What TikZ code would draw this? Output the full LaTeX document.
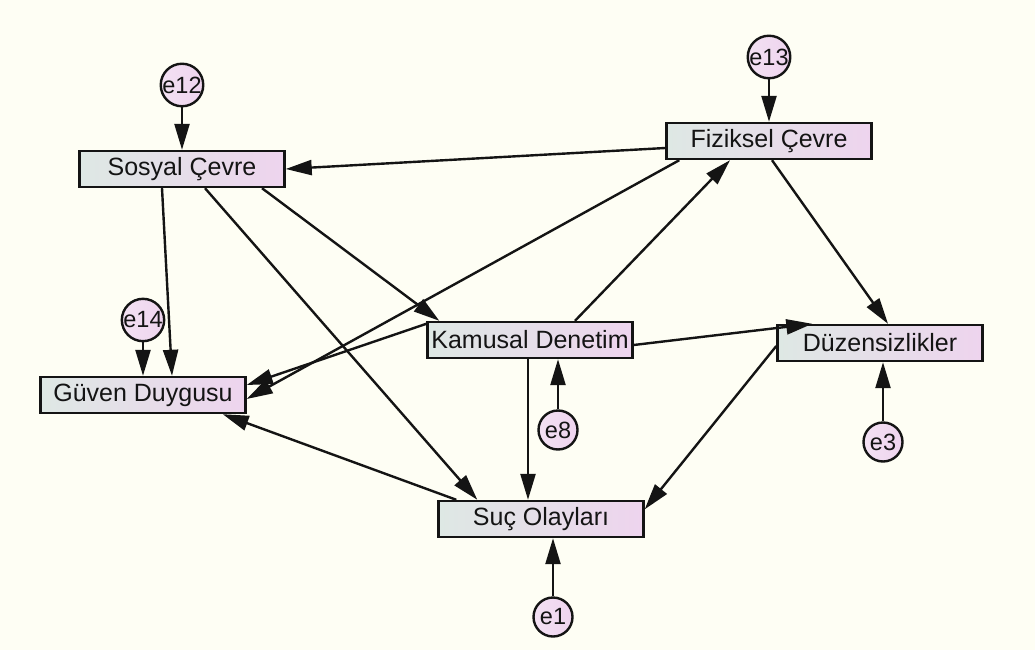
\documentclass[tikz,border=0pt]{standalone}
\usepackage{fontspec}
\setmainfont{Liberation Sans}
\usetikzlibrary{arrows.meta}
\definecolor{bgc}{RGB}{254,254,244}
\definecolor{lc}{RGB}{222,232,228}
\definecolor{rc}{RGB}{238,212,238}
\definecolor{ink}{RGB}{20,20,20}
\tikzset{
  varbox/.style={draw=ink, line width=2.4pt, left color=lc, right color=rc, shading angle=90,
    minimum width=205pt, minimum height=36pt, inner sep=0pt, text=ink,
    font=\fontsize{25}{29}\selectfont},
  errc/.style={circle, draw=ink, line width=2.4pt, left color=rc!70!white, right color=rc,
    minimum size=39pt, inner sep=0pt, text=ink, font=\fontsize{23.5}{27}\selectfont},
  arr/.style={draw=ink, line width=2.4pt, -{Triangle[length=26pt,width=15pt]}},
}
\begin{document}
\begin{tikzpicture}[x=1pt,y=-1pt]
\fill[bgc] (0,0) rectangle (1035,650);
\useasboundingbox (0,0) rectangle (1035,650);
% variables
\node[varbox] (sos) at (182,169) {Sosyal Çevre};
\node[varbox] (fiz) at (769,141) {Fiziksel Çevre};
\node[varbox] (guv) at (143,395) {Güven Duygusu};
\node[varbox] (kam) at (530,340) {Kamusal Denetim};
\node[varbox] (duz) at (880,343) {Düzensizlikler};
\node[varbox] (suc) at (541,519) {Suç Olayları};
% errors
\node[errc] (e12) at (182,85) {e12};
\node[errc] (e13) at (769,57) {e13};
\node[errc] (e14) at (143,320) {e14};
\node[errc] (e8) at (558,430) {e8};
\node[errc] (e3) at (883,442) {e3};
\node[errc] (e1) at (553,617) {e1};
% error arrows
\draw[arr] (e12) -- (sos.north);
\draw[arr] (e13) -- (fiz.north);
\draw[arr] (e14) -- (guv.north);
\draw[arr] (e8) -- ([xshift=28pt]kam.south);
\draw[arr] (e3) -- ([xshift=3pt]duz.south);
\draw[arr] (e1) -- ([xshift=12pt]suc.south);
% structural paths
\draw[arr] ([yshift=-7pt]fiz.west) -- (sos.east);
\draw[arr] ([xshift=14pt]fiz.south west) -- ([yshift=-4pt]guv.east);
\draw[arr] ([xshift=45pt]kam.north) -- ([xshift=-39pt]fiz.south);
\draw[arr] ([xshift=3pt]fiz.south) -- ([xshift=8pt]duz.north);
\draw[arr] ([xshift=-20pt]sos.south) -- ([xshift=29pt]guv.north);
\draw[arr] ([xshift=80pt]sos.south) -- ([xshift=13pt]kam.north west);
\draw[arr] ([xshift=23pt]sos.south) -- ([xshift=40pt]suc.north west);
\draw[arr] ([yshift=-3pt]kam.north west) -- ([yshift=10pt]guv.east);
\draw[arr] ([yshift=-5pt]kam.east) -- ([xshift=36pt]duz.north west);
\draw[arr] ([yshift=-3pt]duz.west) -- ([yshift=-9.5pt]suc.north east);
\draw[arr] ([xshift=19pt]suc.north west) -- ([xshift=-24pt]guv.south east);
\draw[arr] ([xshift=-2pt]kam.south) -- ([xshift=-13pt]suc.north);
\end{tikzpicture}
\end{document}
